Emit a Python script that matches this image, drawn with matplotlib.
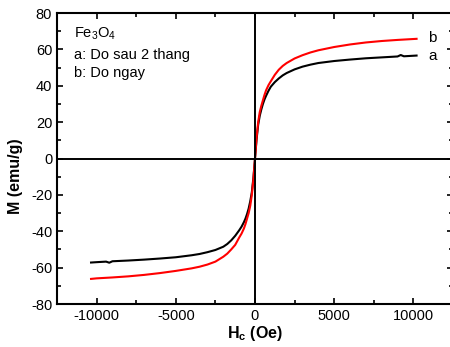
import numpy as np
import matplotlib
matplotlib.use("Agg")
import matplotlib.pyplot as plt
from matplotlib.ticker import MultipleLocator

plt.rcParams['font.family'] = ['Liberation Sans', 'DejaVu Sans']
plt.rcParams['axes.unicode_minus'] = False

# field values (Oe), positive branch
h_pos = [0, 100, 200, 300, 400, 500, 600, 700, 850, 1000, 1250, 1500, 1750,
         2000, 2500, 3000, 3500, 4000, 5000, 6000, 7000, 8000, 9000, 9200,
         9400, 10000, 10200]
# a: measured after 2 months
m_a_pos = [0, 10.5, 18.5, 23.5, 27, 30, 32.5, 34.5, 37.2, 39.5, 42, 44, 45.7,
           47, 49, 50.5, 51.6, 52.5, 53.6, 54.4, 55.1, 55.6, 56.1, 56.9,
           56.2, 56.5, 56.6]
# b: measured immediately
m_b_pos = [0, 11.5, 20, 25.5, 29, 32, 35, 37.5, 40.3, 42.5, 46, 48.8, 50.9,
           52.5, 55, 56.8, 58.3, 59.5, 61.3, 62.7, 63.8, 64.6, 65.2, 65.3,
           65.4, 65.7, 65.8]

# negative branch
h_neg = [0, -100, -200, -300, -400, -500, -600, -700, -850, -1000, -1250,
         -1500, -1750, -2000, -2500, -3000, -3500, -4000, -5000, -6000,
         -7000, -8000, -9000, -9200, -9400, -10000, -10350]
m_a_neg = [0, -10.5, -18.5, -23.5, -27.5, -30.5, -33, -35, -37.5, -39.5,
           -42.5, -45, -47, -48.5, -50.3, -51.5, -52.5, -53.2, -54.3, -55,
           -55.6, -56.1, -56.5, -57.3, -56.7, -57, -57.2]
m_b_neg = [0, -11.5, -20, -26, -30, -33, -36, -38.5, -41.3, -43.5, -47.5,
           -50, -52.3, -54, -56.7, -58.3, -59.5, -60.4, -61.8, -63, -64,
           -64.8, -65.4, -65.5, -65.6, -65.9, -66.2]

fig = plt.figure(figsize=(4.5, 3.47), dpi=100)
ax = fig.add_axes([57 / 450, 43 / 347, 396 / 450, 291 / 347])

ha = np.array(h_neg[::-1] + h_pos[1:])
ma = np.array(m_a_neg[::-1] + m_a_pos[1:])
mb = np.array(m_b_neg[::-1] + m_b_pos[1:])

ax.plot(ha, ma, color='black', lw=1.5)
ax.plot(ha, mb, color='red', lw=1.5)

ax.axhline(0, color='black', lw=1.4)
ax.axvline(0, color='black', lw=1.4)

ax.set_xlim(-12500, 12500)
ax.set_ylim(-80, 80)
ax.xaxis.set_major_locator(MultipleLocator(5000))
ax.xaxis.set_minor_locator(MultipleLocator(2500))
ax.yaxis.set_major_locator(MultipleLocator(20))
ax.yaxis.set_minor_locator(MultipleLocator(10))
ax.tick_params(which='both', direction='in', top=True, right=True,
               labelsize=10.5, width=1.2)
ax.tick_params(which='major', length=4.5)
ax.tick_params(which='minor', length=3)
for s in ax.spines.values():
    s.set_linewidth(1.5)

ax.set_xlabel(r'H$_\mathregular{c}$ (Oe)', fontsize=11.5, fontweight='bold',
              labelpad=1)
ax.set_ylabel('M (emu/g)', fontsize=11.5, fontweight='bold')
ax.yaxis.set_label_coords(-0.085, 0.44)

ax.text(74, 347 - 37, r'Fe$_\mathregular{3}$O$_\mathregular{4}$',
        fontsize=10.5, transform=None)
ax.text(74, 347 - 59, 'a: Do sau 2 thang', fontsize=10.5, transform=None)
ax.text(74, 347 - 77, 'b: Do ngay', fontsize=10.5, transform=None)
ax.text(428, 347 - 38, 'b', fontsize=11, va='center', transform=None)
ax.text(428, 347 - 56, 'a', fontsize=11, va='center', transform=None)

fig.savefig('out.png', dpi=100)
